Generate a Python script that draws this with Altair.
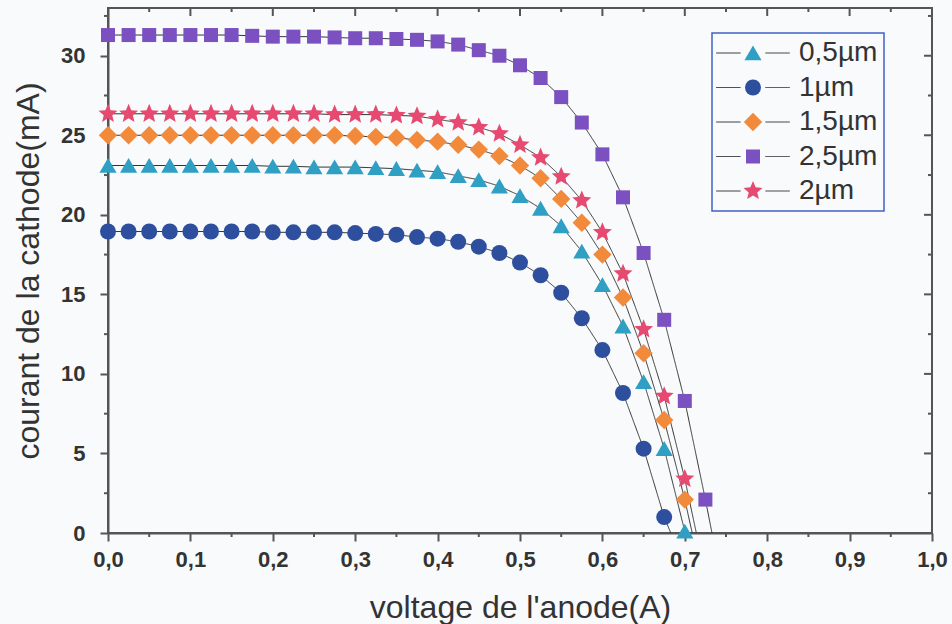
import altair as alt
import pandas as pd

# ---------------- data ----------------
series_names = ["0,5µm", "1µm", "1,5µm", "2,5µm", "2µm"]
series_colors = ["#2f9fc3", "#2d4f9d", "#f28a3c", "#7b50c0", "#e64a70"]
curve_ids = ["c05", "c1", "c15", "c25", "c2"]   # keys of the connecting lines

volt = [0.0, 0.025, 0.05, 0.075, 0.1, 0.125, 0.15, 0.175, 0.2, 0.225,
        0.25, 0.275, 0.3, 0.325, 0.35, 0.375, 0.4, 0.425, 0.45, 0.475,
        0.5, 0.525, 0.55, 0.575, 0.6, 0.625, 0.65, 0.675, 0.7, 0.725]

i_05 = [23.1, 23.1, 23.1, 23.1, 23.1, 23.1, 23.1, 23.1, 23.05, 23.05,
        23.0, 23.0, 23.0, 22.95, 22.9, 22.8, 22.7, 22.45, 22.2, 21.8,
        21.2, 20.4, 19.3, 17.7, 15.6, 13.0, 9.5, 5.3, 0.1]
i_1 = [18.95, 18.95, 18.95, 18.95, 18.95, 18.95, 18.95, 18.95, 18.9, 18.9,
       18.9, 18.9, 18.85, 18.8, 18.75, 18.6, 18.5, 18.3, 18.0, 17.6,
       17.0, 16.2, 15.1, 13.5, 11.5, 8.8, 5.3, 1.0]
i_15 = [25.0, 25.0, 25.0, 25.0, 25.0, 25.0, 25.0, 25.0, 25.0, 25.0,
        25.0, 25.0, 24.95, 24.9, 24.85, 24.7, 24.6, 24.4, 24.1, 23.7,
        23.1, 22.3, 21.0, 19.5, 17.5, 14.8, 11.3, 7.1, 2.1]
i_25 = [31.3, 31.3, 31.3, 31.3, 31.3, 31.3, 31.3, 31.25, 31.2, 31.2,
        31.2, 31.15, 31.1, 31.1, 31.05, 31.0, 30.9, 30.7, 30.35, 30.0,
        29.4, 28.6, 27.4, 25.8, 23.8, 21.1, 17.6, 13.4, 8.3, 2.1]
i_2 = [26.35, 26.35, 26.35, 26.35, 26.35, 26.35, 26.35, 26.35, 26.35, 26.35,
       26.35, 26.3, 26.3, 26.3, 26.25, 26.2, 26.0, 25.8, 25.5, 25.1,
       24.4, 23.6, 22.4, 20.9, 18.9, 16.3, 12.8, 8.6, 3.4]

# open-circuit voltage where each curve reaches 0 mA
voc = [0.701, 0.683, 0.709, 0.733, 0.714]

x_major = [0.0, 0.1, 0.2, 0.3, 0.4, 0.5, 0.6, 0.7, 0.8, 0.9, 1.0]
x_minor = [0.05, 0.15, 0.25, 0.35, 0.45, 0.55, 0.65, 0.75, 0.85, 0.95]
y_major = [0, 5, 10, 15, 20, 25, 30]
y_minor = [2.5, 7.5, 12.5, 17.5, 22.5, 27.5, 32.5]

currents = [i_05, i_1, i_15, i_25, i_2]

# ---------------- tables ----------------
pts_rows = []
line_rows = []
for name, cid, cur, vo in zip(series_names, curve_ids, currents, voc):
    for v, c in zip(volt, cur):
        pts_rows.append({"series": name, "v": v, "i": c})
        line_rows.append({"curve": cid, "v": v, "i": c})
    line_rows.append({"curve": cid, "v": vo, "i": 0.0})
pts = pd.DataFrame(pts_rows)
lines = pd.DataFrame(line_rows)

# ---------------- styling ----------------
W, H = 824, 525
XMIN, XMAX, YMIN, YMAX = 0.0, 1.0, 0.0, 33.0
PX_X = (XMAX - XMIN) / W      # data units per pixel
PX_Y = (YMAX - YMIN) / H
FONT = "Liberation Sans"
AX = "#555555"
TXT = "#333333"

tri = "M0,-0.95L1.07,0.9L-1.07,0.9Z"
sq = "M-0.875,-0.875H0.875V0.875H-0.875Z"
dia = "M0,-1.15L1.15,0L0,1.15L-1.15,0Z"
star = ("M0,-1.25L0.331,-0.455L1.189,-0.386L0.535,0.174L0.735,1.011L0,0.5625"
        "L-0.735,1.011L-0.535,0.174L-1.189,-0.386L-0.331,-0.455Z")
shape_range = [tri, "circle", dia, sq, star]
legend_line = "M-4.6,0H-1.55M1.55,0H4.6"

xscale = alt.Scale(domain=[XMIN, XMAX], nice=False, zero=False)
yscale = alt.Scale(domain=[YMIN, YMAX], nice=False)

x_axis = alt.Axis(
    values=x_major,
    labelExpr="replace(format(datum.value,'.1f'),'.',',')",
    tickSize=8, grid=False, domainColor=AX, domainWidth=2, tickColor=AX, tickWidth=2,
    labelFont=FONT, labelFontSize=22, labelFontWeight="bold", labelColor=TXT,
    labelPadding=8, labelFlush=False,
    title="voltage de l'anode(A)", titleFont=FONT, titleFontSize=32,
    titleFontWeight="normal", titleColor=TXT, titleX=W / 2, titleY=74,
    titleBaseline="middle",
)
y_axis = alt.Axis(
    values=y_major, format="d",
    tickSize=8, grid=False, domainColor=AX, domainWidth=2, tickColor=AX, tickWidth=2,
    labelFont=FONT, labelFontSize=22, labelFontWeight="bold", labelColor=TXT,
    labelPadding=15, labelFlush=False,
    title="courant de la cathode(mA)", titleFont=FONT, titleFontSize=32,
    titleFontWeight="normal", titleColor=TXT, titleX=-80, titleY=H / 2,
    titleBaseline="middle", titleAngle=270,
)

X = alt.X("v:Q", scale=xscale, axis=x_axis)
Y = alt.Y("i:Q", scale=yscale, axis=y_axis)

common_leg = dict(
    orient="none", legendX=604, legendY=25, direction="vertical",
    symbolSize=256, symbolOffset=21, labelOffset=32, padding=6, rowPadding=6.5,
    labelFont=FONT, labelFontSize=28, labelLimit=300,
)
sym_legend = alt.Legend(title=None, strokeColor="#3f62c8",
                        labelColor=TXT, symbolStrokeWidth=0, **common_leg)
line_legend = alt.Legend(title=None, strokeColor="transparent",
                         labelColor="transparent", labelExpr="''",
                         symbolType=legend_line,
                         symbolStrokeColor="#333333", symbolStrokeWidth=1,
                         symbolFillColor="transparent", **common_leg)

line_layer = alt.Chart(lines).mark_line(color="#333333", strokeWidth=1).encode(
    x=X, y=Y,
    strokeDash=alt.StrokeDash("curve:N",
                              scale=alt.Scale(domain=curve_ids, range=[[1, 0]] * 5),
                              legend=line_legend),
    order="v:Q",
)

point_layer = alt.Chart(pts).mark_point(filled=True, size=256, opacity=1, strokeWidth=0).encode(
    x=X, y=Y,
    color=alt.Color("series:N", scale=alt.Scale(domain=series_names, range=series_colors),
                    legend=sym_legend),
    shape=alt.Shape("series:N", scale=alt.Scale(domain=series_names, range=shape_range),
                    legend=sym_legend),
)

tick_style = dict(color=AX, strokeWidth=2)


def xticks(values, y_from, length_px):
    df = pd.DataFrame({"v": values})
    return alt.Chart(df).mark_rule(**tick_style).encode(
        x=X, y=alt.datum(y_from), y2=alt.datum(y_from + length_px * PX_Y))


def yticks(values, x_from, length_px):
    df = pd.DataFrame({"i": values})
    return alt.Chart(df).mark_rule(**tick_style).encode(
        y=Y, x=alt.datum(x_from), x2=alt.datum(x_from + length_px * PX_X))


tick_layers = [
    xticks(x_minor, YMIN, -4),          # bottom minor, outward
    xticks(x_major[1:-1], YMAX, -8),    # top major, inward
    xticks(x_minor, YMAX, -4),          # top minor, inward
    yticks(y_minor, XMIN, -4),          # left minor, outward
    yticks(y_major[1:], XMAX, -8),      # right major, inward
    yticks(y_minor, XMAX, -4),          # right minor, inward
]

chart = alt.layer(line_layer, point_layer, *tick_layers).properties(
    width=W, height=H,
    padding={"left": 108, "top": 8, "right": 20, "bottom": 91},
    autosize=alt.AutoSizeParams(type="none"),
    background="#f8fafc",
).configure_view(stroke=AX, strokeWidth=2).configure_legend(strokeWidth=1.5)

chart.save("out.html", embed_options={"renderer": "svg", "actions": False})
